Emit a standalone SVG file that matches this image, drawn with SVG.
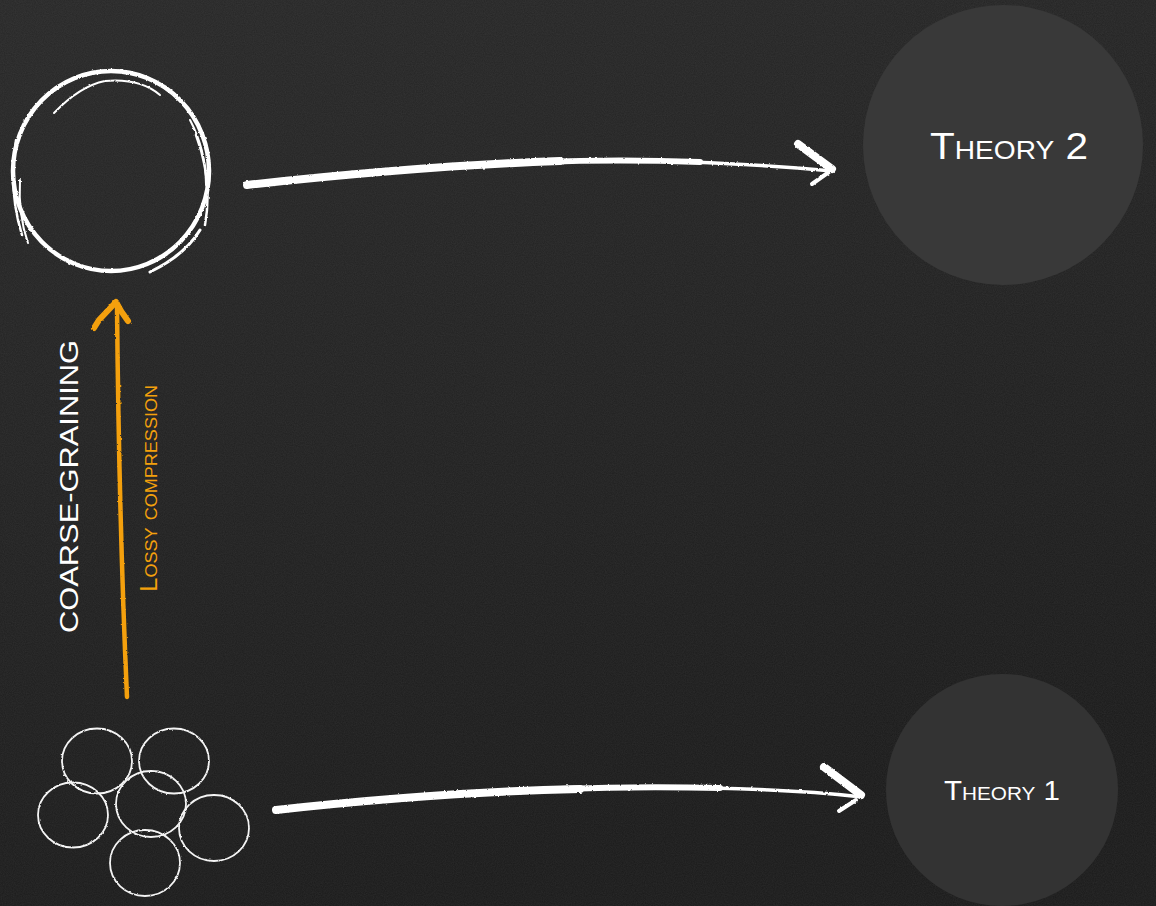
<svg xmlns="http://www.w3.org/2000/svg" width="1156" height="906" viewBox="0 0 1156 906">
  <defs>
    <linearGradient id="board" x1="0" y1="0" x2="0.3" y2="1">
      <stop offset="0" stop-color="#272727"/>
      <stop offset="0.5" stop-color="#212121"/>
      <stop offset="1" stop-color="#1a1a1a"/>
    </linearGradient>
    <!-- chalk grain for the board -->
    <filter id="grain" x="0" y="0" width="100%" height="100%">
      <feTurbulence type="fractalNoise" baseFrequency="0.9" numOctaves="2" seed="3" result="n"/>
      <feColorMatrix type="matrix" values="0 0 0 0 1  0 0 0 0 1  0 0 0 0 1  0 0 0 0.07 0"/>
    </filter>
    <!-- rough brush edges -->
    <filter id="rough" x="-5%" y="-5%" width="110%" height="110%">
      <feTurbulence type="fractalNoise" baseFrequency="0.35" numOctaves="2" seed="7" result="t"/>
      <feDisplacementMap in="SourceGraphic" in2="t" scale="2.2" xChannelSelector="R" yChannelSelector="G"/>
    </filter>
    <style>
      .chalk { fill: none; stroke: #ffffff; stroke-linecap: round; stroke-linejoin: round; }
      .bubble { fill: none; stroke: #f4f4f4; stroke-width: 1.8; }
      .theory { fill: #ffffff; font-family: "Liberation Sans", "DejaVu Sans", sans-serif; font-variant: small-caps; }
      .label { font-family: "Liberation Sans", "DejaVu Sans", sans-serif; }
    </style>
  </defs>

  <!-- board -->
  <rect width="1156" height="906" fill="url(#board)"/>
  <rect width="1156" height="906" filter="url(#grain)"/>

  <!-- theory nodes -->
  <g id="theory2">
    <circle cx="1003" cy="145" r="140" fill="#393939"/>
    <text class="theory" x="1009" y="159" font-size="36" text-anchor="middle" textLength="158" lengthAdjust="spacingAndGlyphs">Theory 2</text>
  </g>
  <g id="theory1">
    <circle cx="1002" cy="790" r="116" fill="#333333"/>
    <text class="theory" x="1002" y="800" font-size="27" text-anchor="middle" textLength="116" lengthAdjust="spacingAndGlyphs">Theory 1</text>
  </g>

  <!-- coarse-grained system: one big hand-drawn circle -->
  <g id="coarse" filter="url(#rough)">
    <ellipse class="chalk" cx="111" cy="171" rx="98" ry="100" stroke-width="4.5"/>
    <path class="chalk" stroke-width="2" d="M54 113 Q80 86 105 81 Q140 78 160 95"/>
    <path class="chalk" stroke-width="2.5" d="M22 235 Q8 190 16 140"/>
    <path class="chalk" stroke-width="2" d="M28 243 Q18 215 20 180"/>
    <path class="chalk" stroke-width="2.5" d="M196 135 Q213 180 205 225"/>
    <path class="chalk" stroke-width="2" d="M190 120 Q206 150 206 185"/>
    <path class="chalk" stroke-width="2.5" d="M40 102 Q70 72 112 71 Q145 72 165 88"/>
    <path class="chalk" stroke-width="3" d="M150 272 Q185 255 200 230"/>
  </g>

  <!-- fine-grained system: a cluster of small circles -->
  <g id="fine" filter="url(#rough)">
    <ellipse class="bubble" cx="97" cy="761" rx="35" ry="32.5"/>
    <ellipse class="bubble" cx="174" cy="761" rx="35" ry="32.5"/>
    <ellipse class="bubble" cx="73" cy="815" rx="35" ry="32.5"/>
    <ellipse class="bubble" cx="151" cy="804" rx="35" ry="33"/>
    <ellipse class="bubble" cx="214" cy="828" rx="35" ry="33"/>
    <ellipse class="bubble" cx="145" cy="863" rx="35" ry="33"/>
  </g>

  <!-- vertical labels -->
  <g id="labels">
    <text class="label" transform="translate(78,633) rotate(-90)" font-size="25" fill="#ffffff" textLength="293" lengthAdjust="spacingAndGlyphs">COARSE-GRAINING</text>
    <text class="label" transform="translate(157,592) rotate(-90)" font-size="23" fill="#f4a00c" font-variant="small-caps" textLength="207" lengthAdjust="spacingAndGlyphs">Lossy compression</text>
  </g>

  <!-- connectors -->
  <g id="connectors" filter="url(#rough)">
    <!-- coarse-graining arrow (orange) -->
    <path d="M127 697 Q119 520 117 306" fill="none" stroke="#f4a00c" stroke-width="4.5" stroke-linecap="round"/>
    <path d="M94 328 L99 320 L116 302 L121 311 L128 321" fill="none" stroke="#f4a00c" stroke-width="6" stroke-linecap="round" stroke-linejoin="round"/>

    <!-- upper arrow: coarse system to Theory 2 -->
    <path class="chalk" stroke-width="8" d="M247 185 Q420 166 560 161"/>
    <path class="chalk" stroke-width="6" d="M540 162 Q620 159 700 162"/>
    <path class="chalk" stroke-width="3.5" d="M690 162 Q770 165 832 171"/>
    <path class="chalk" stroke-width="8" d="M798 144 L832 169"/>
    <path class="chalk" stroke-width="4" d="M812 184 L829 172"/>

    <!-- lower arrow: fine system to Theory 1 -->
    <path class="chalk" stroke-width="8" d="M276 810 Q440 792 580 789"/>
    <path class="chalk" stroke-width="6" d="M560 789 Q640 786 720 788"/>
    <path class="chalk" stroke-width="3.5" d="M710 788 Q800 790 862 797"/>
    <path class="chalk" stroke-width="8" d="M824 767 L861 795"/>
    <path class="chalk" stroke-width="4" d="M839 811 L856 800"/>
  </g>
</svg>
